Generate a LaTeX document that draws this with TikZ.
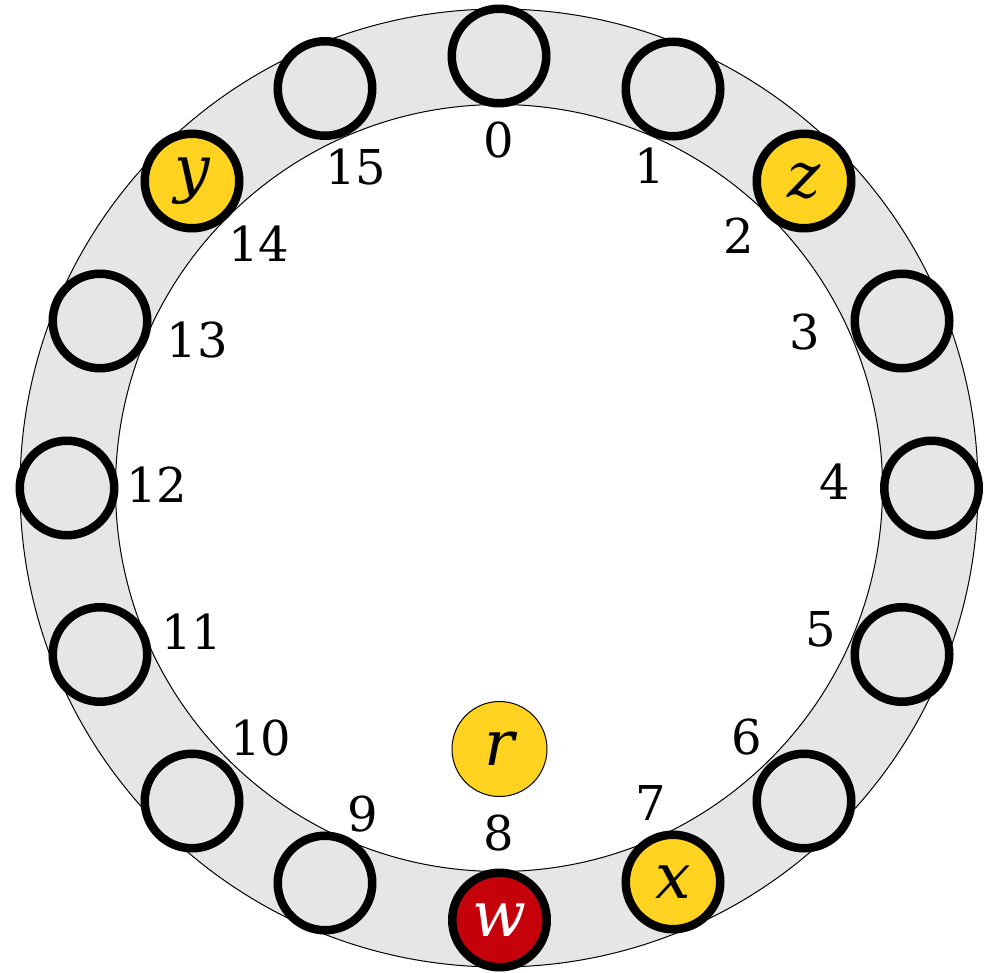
\documentclass[tikz,border=0pt]{standalone}
\usepackage{fontspec}
\setmainfont{DejaVu Serif}
\definecolor{ringgrey}{HTML}{E6E6E6}
\definecolor{gold}{HTML}{FFD320}
\definecolor{wred}{HTML}{C5000B}
\tikzset{
  slot/.style={circle, draw=black, line width=8.5pt, fill=ringgrey, minimum size=94.5pt, inner sep=0pt,
    font=\fontsize{63}{63}\selectfont\itshape},
  gslot/.style={slot, fill=gold},
  rslot/.style={slot, fill=wred, text=white},
  rootnode/.style={circle, draw=black, line width=1pt, fill=gold, minimum size=95pt, inner sep=0pt,
    font=\fontsize{63}{63}\selectfont\itshape},
  lab/.style={inner sep=0pt, font=\fontsize{48}{48}\selectfont},
  ringline/.style={draw=black, line width=1pt, fill=ringgrey, even odd rule}
}
\begin{document}
\begin{tikzpicture}[x=1pt,y=-1pt]
\useasboundingbox (0,0) rectangle (988,973);
\coordinate (c) at (499,488);
\path[ringline] (c) circle (479pt) (c) circle (383.5pt);
\node[slot]  (n0)  at (499,56)    {};
\node[slot]  (n1)  at (673,89)    {};
\node[gslot] (n2)  at (804,181)   {z};
\node[slot]  (n3)  at (902,321)   {};
\node[slot]  (n4)  at (931.5,488) {};
\node[slot]  (n5)  at (902,654.5) {};
\node[slot]  (n6)  at (804,801)   {};
\node[gslot] (n7)  at (673,882)   {x};
\node[rslot] (n8)  at (499.5,920) {w};
\node[slot]  (n9)  at (325,883)   {};
\node[slot]  (n10) at (192,801)   {};
\node[slot]  (n11) at (100,654.5) {};
\node[slot]  (n12) at (67,488)    {};
\node[slot]  (n13) at (100,321)   {};
\node[gslot] (n14) at (192,181)   {y};
\node[slot]  (n15) at (325,88.5)  {};
\node[rootnode] (r) at (499.5,749) {r};
\node[lab] (l0)  at (498.5,140) {0};
\node[lab] (l1)  at (650,166)   {1};
\node[lab] (l2)  at (738.7,236) {2};
\node[lab] (l3)  at (805,332.5) {3};
\node[lab] (l4)  at (835,481.5) {4};
\node[lab] (l5)  at (820.5,629) {5};
\node[lab] (l6)  at (747,737)   {6};
\node[lab] (l7)  at (650.5,803) {7};
\node[lab] (l8)  at (499,833)   {8};
\node[lab] (l9)  at (363,814)   {9};
\node[lab] (l10) at (261,738)   {10};
\node[lab] (l11) at (191.7,631.7) {11};
\node[lab] (l12) at (157,484.5) {12};
\node[lab] (l13) at (197.5,340) {13};
\node[lab] (l14) at (259,244)   {14};
\node[lab] (l15) at (356,166.7) {15};
\end{tikzpicture}
\end{document}
